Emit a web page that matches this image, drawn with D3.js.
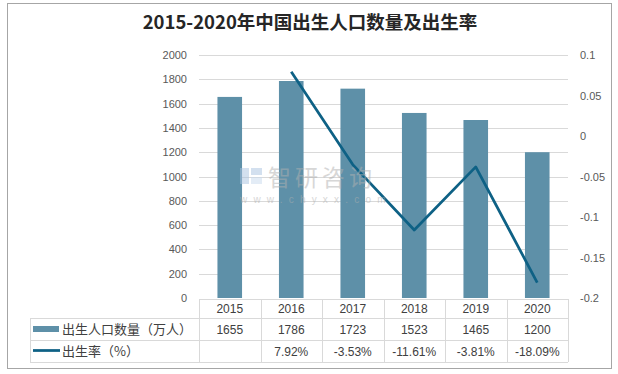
<!DOCTYPE html>
<html>
<head>
<meta charset="utf-8">
<script src="https://cdn.jsdelivr.net/npm/d3@7"></script>
<style>
  body { margin: 0; background: #fff; }
  svg { display: block; }
</style>
</head>
<body>
<div id="chart"></div>
<script>
// data
var years = ["2015", "2016", "2017", "2018", "2019", "2020"];
var births = [1655, 1786, 1723, 1523, 1465, 1200];
var rates = [null, 0.0792, -0.0353, -0.1161, -0.0381, -0.1809];
var rateLabels = ["", "7.92%", "-3.53%", "-11.61%", "-3.81%", "-18.09%"];
var leftTicks = [0, 200, 400, 600, 800, 1000, 1200, 1400, 1600, 1800, 2000];
var rightTicks = [0.1, 0.05, 0, -0.05, -0.1, -0.15, -0.2];
var seriesNames = ["出生人口数量（万人）", "出生率（%）"];

var W = 618, H = 374;
var plotL = 199, plotR = 568, plotT = 55, plotB = 298;
var barColor = "#5E90A8", lineColor = "#0E6185", gridColor = "#D9D9D9";
var numFont = "'Liberation Sans', 'Noto Sans CJK SC', sans-serif";
var cjkFont = "'Noto Sans CJK SC', sans-serif";

var svg = d3.select("#chart")
  .append("svg")
    .attr("width", W)
    .attr("height", H);

// outer frame
svg.append("rect")
  .attr("x", 7.5).attr("y", 3.5)
  .attr("width", 604).attr("height", 365)
  .attr("fill", "#fff")
  .attr("stroke", "#A6A6A6")
  .attr("stroke-width", 1);

// title
svg.append("text")
  .attr("x", 310).attr("y", 29)
  .attr("text-anchor", "middle")
  .attr("font-family", cjkFont)
  .attr("font-weight", "bold")
  .attr("font-size", "18.5px")
  .attr("fill", "#262626")
  .text("2015-2020年中国出生人口数量及出生率");

var x = d3.scaleBand()
  .domain(years)
  .range([plotL, plotR])
  .paddingInner(0)
  .paddingOuter(0);

var yL = d3.scaleLinear().domain([0, 2000]).range([plotB, plotT]);
var yR = d3.scaleLinear().domain([-0.2, 0.1]).range([plotB, plotT]);

// gridlines
svg.append("g")
  .selectAll("line")
  .data(leftTicks.filter(d => d > 0))
  .enter()
  .append("line")
    .attr("x1", plotL).attr("x2", plotR)
    .attr("y1", d => Math.round(yL(d)) + 0.5)
    .attr("y2", d => Math.round(yL(d)) + 0.5)
    .attr("stroke", gridColor);

// left axis labels
svg.append("g")
  .selectAll("text")
  .data(leftTicks)
  .enter()
  .append("text")
    .attr("x", 187)
    .attr("y", d => yL(d) + 4)
    .attr("text-anchor", "end")
    .attr("font-family", numFont)
    .attr("font-size", "11px")
    .attr("fill", "#595959")
    .text(d => d);

// right axis labels
svg.append("g")
  .selectAll("text")
  .data(rightTicks)
  .enter()
  .append("text")
    .attr("x", 580)
    .attr("y", d => yR(d) + 4)
    .attr("font-family", numFont)
    .attr("font-size", "11px")
    .attr("fill", "#595959")
    .text(d => d);

// bars
var barW = x.bandwidth() / 2.5;
svg.append("g")
  .selectAll("rect")
  .data(births)
  .enter()
  .append("rect")
    .attr("x", (d, i) => x(years[i]) + (x.bandwidth() - barW) / 2)
    .attr("y", d => yL(d))
    .attr("width", barW)
    .attr("height", d => plotB - yL(d))
    .attr("fill", barColor);

// line
var lineData = rates.map((r, i) => [years[i], r]).filter(d => d[1] !== null);
var line = d3.line()
  .x(d => x(d[0]) + x.bandwidth() / 2)
  .y(d => yR(d[1]));
svg.append("path")
  .datum(lineData)
  .attr("d", line)
  .attr("fill", "none")
  .attr("stroke", lineColor)
  .attr("stroke-width", 2.75)
  .attr("stroke-linejoin", "round");

// watermark (sits over the bars)
var wm = svg.append("g").attr("opacity", 0.5);
wm.append("rect").attr("x", 240).attr("y", 168).attr("width", 9).attr("height", 16).attr("fill", "#A9C3E0");
wm.append("rect").attr("x", 251).attr("y", 168).attr("width", 11).attr("height", 7).attr("fill", "#A9C3E0");
wm.append("rect").attr("x", 251).attr("y", 177).attr("width", 11).attr("height", 7).attr("fill", "#C9DAEE");
wm.append("text")
  .attr("x", 268).attr("y", 186)
  .attr("font-family", cjkFont)
  .attr("font-size", "23px")
  .attr("fill", "#B0B0B0")
  .attr("letter-spacing", "4px")
  .text("智研咨询");
wm.append("text")
  .attr("x", 240).attr("y", 203)
  .attr("font-family", numFont)
  .attr("font-size", "10px")
  .attr("fill", "#B0B0B0")
  .attr("letter-spacing", "6.2px")
  .text("www.chyxx.com");

// data table
var rowY = [299, 318, 340, 362];
var tbl = svg.append("g")
  .attr("stroke", gridColor)
  .attr("stroke-width", 1);
tbl.append("line").attr("x1", plotL).attr("x2", plotR).attr("y1", rowY[0] + 0.5).attr("y2", rowY[0] + 0.5);
[1, 2, 3].forEach(function (k) {
  tbl.append("line").attr("x1", 30).attr("x2", plotR).attr("y1", rowY[k] + 0.5).attr("y2", rowY[k] + 0.5);
});
tbl.append("line").attr("x1", 30.5).attr("x2", 30.5).attr("y1", rowY[1]).attr("y2", rowY[3]);
var colEdges = years.map(y => x(y)).concat([plotR]);
tbl.selectAll("line.col")
  .data(colEdges)
  .enter()
  .append("line")
    .attr("x1", d => Math.round(d) + 0.5)
    .attr("x2", d => Math.round(d) + 0.5)
    .attr("y1", rowY[0])
    .attr("y2", rowY[3]);

function cellRow(values, ty) {
  svg.append("g")
    .selectAll("text")
    .data(values)
    .enter()
    .append("text")
      .attr("x", (d, i) => x(years[i]) + x.bandwidth() / 2)
      .attr("y", ty)
      .attr("text-anchor", "middle")
      .attr("font-family", numFont)
      .attr("font-size", "12px")
      .attr("fill", "#404040")
      .text(d => d);
}
cellRow(years, 313);
cellRow(births, 334);
cellRow(rateLabels, 356);

// legend keys in table
svg.append("rect")
  .attr("x", 33).attr("y", 326).attr("width", 26).attr("height", 6)
  .attr("fill", barColor);
svg.append("line")
  .attr("x1", 33).attr("x2", 60).attr("y1", 350.5).attr("y2", 350.5)
  .attr("stroke", lineColor).attr("stroke-width", 2.75);
svg.append("g")
  .selectAll("text")
  .data(seriesNames)
  .enter()
  .append("text")
    .attr("x", 62)
    .attr("y", (d, i) => i === 0 ? 334 : 356)
    .attr("font-family", cjkFont)
    .attr("font-size", "13px")
    .attr("fill", "#404040")
    .text(d => d);
</script>
</body>
</html>
